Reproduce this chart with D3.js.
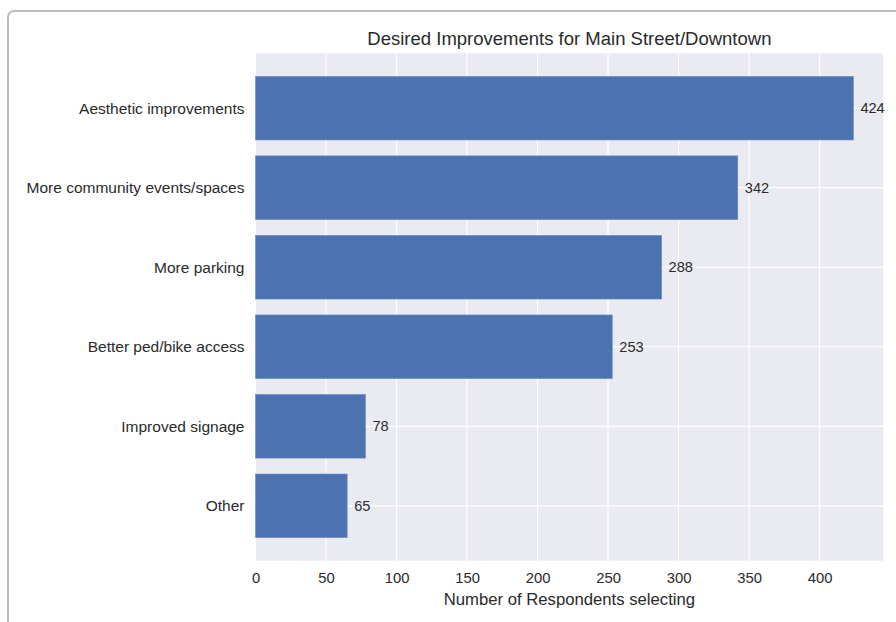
<!DOCTYPE html>
<html>
<head>
<meta charset="utf-8">
<script src="https://cdn.jsdelivr.net/npm/d3@7"></script>
<style>
  html, body { margin: 0; padding: 0; background: #ffffff; overflow: hidden; }
  svg { display: block; font-family: "Liberation Sans", Arial, sans-serif; }
</style>
</head>
<body>
<svg id="chart" width="896" height="622"></svg>
<script>
// Survey results: desired improvements for Main Street/Downtown
const categories = [
  "Aesthetic improvements",
  "More community events/spaces",
  "More parking",
  "Better ped/bike access",
  "Improved signage",
  "Other"
];
const counts = [424, 342, 288, 253, 78, 65];
const xTicks = [0, 50, 100, 150, 200, 250, 300, 350, 400];

const titleText = "Desired Improvements for Main Street/Downtown";
const xLabelText = "Number of Respondents selecting";

const W = 896, H = 622;
const plot = { left: 255.5, right: 883.3, top: 53.3, bottom: 560.7 };

const svg = d3.select("#chart");

// card outline around the figure
svg.append("rect")
  .attr("x", 8).attr("y", 11)
  .attr("width", 1000).attr("height", 700)
  .attr("rx", 6).attr("ry", 6)
  .attr("fill", "#ffffff")
  .attr("stroke", "#bcbcbc")
  .attr("stroke-width", 2);

const xMax = d3.max(counts) * 1.05;
const x = d3.scaleLinear().domain([0, xMax]).range([plot.left, plot.right]);

// bars of height 0.8 centred on integer positions, with 5% vertical padding
const span = (categories.length - 1) + 0.8;
const pad = span * 0.05;
const y = d3.scaleLinear()
  .domain([-0.4 - pad, categories.length - 1 + 0.4 + pad])
  .range([plot.top, plot.bottom]);

const g = svg.append("g");

// plot background
g.append("rect")
  .attr("x", plot.left).attr("y", plot.top)
  .attr("width", plot.right - plot.left)
  .attr("height", plot.bottom - plot.top)
  .attr("fill", "#eaeaf2");

// vertical grid
g.selectAll("line.vgrid").data(xTicks).enter().append("line")
  .attr("class", "vgrid")
  .attr("x1", d => x(d)).attr("x2", d => x(d))
  .attr("y1", plot.top).attr("y2", plot.bottom)
  .attr("stroke", "#ffffff").attr("stroke-width", 1.2);

// horizontal grid at category centres
g.selectAll("line.hgrid").data(categories).enter().append("line")
  .attr("class", "hgrid")
  .attr("x1", plot.left).attr("x2", plot.right)
  .attr("y1", (d, i) => y(i)).attr("y2", (d, i) => y(i))
  .attr("stroke", "#ffffff").attr("stroke-width", 1.2);

// bars
g.selectAll("rect.bar").data(counts).enter().append("rect")
  .attr("class", "bar")
  .attr("x", x(0))
  .attr("y", (d, i) => y(i - 0.4))
  .attr("width", d => x(d) - x(0))
  .attr("height", (d, i) => y(i + 0.4) - y(i - 0.4))
  .attr("fill", "#4c72b0")
  .attr("stroke", "#6a8cc4")
  .attr("stroke-width", 0.6);

// value labels
g.selectAll("text.val").data(counts).enter().append("text")
  .attr("class", "val")
  .attr("x", d => x(d) + 7)
  .attr("y", (d, i) => y(i))
  .attr("dy", "0.35em")
  .attr("font-size", 14.6)
  .attr("fill", "#2a2a2a")
  .text(d => d);

// y tick labels
g.selectAll("text.ylab").data(categories).enter().append("text")
  .attr("class", "ylab")
  .attr("x", plot.left - 11)
  .attr("y", (d, i) => y(i))
  .attr("dy", "0.35em")
  .attr("text-anchor", "end")
  .attr("font-size", 15.5)
  .attr("fill", "#2a2a2a")
  .text(d => d);

// x axis tick labels
const xAxis = d3.axisBottom(x).tickValues(xTicks).tickSize(0).tickPadding(0);
const ax = svg.append("g")
  .attr("transform", `translate(0,${plot.bottom})`)
  .call(xAxis);
ax.select(".domain").remove();
ax.selectAll("text")
  .attr("y", 22)
  .attr("dy", 0)
  .attr("font-size", 14.8)
  .attr("font-family", "Liberation Sans, Arial, sans-serif")
  .attr("fill", "#2a2a2a");

// axis title
svg.append("text")
  .attr("x", (plot.left + plot.right) / 2)
  .attr("y", 605)
  .attr("text-anchor", "middle")
  .attr("font-size", 16.7)
  .attr("fill", "#2a2a2a")
  .text(xLabelText);

// chart title
svg.append("text")
  .attr("x", (plot.left + plot.right) / 2)
  .attr("y", 45)
  .attr("text-anchor", "middle")
  .attr("font-size", 18.5)
  .attr("fill", "#2a2a2a")
  .text(titleText);
</script>
</body>
</html>
